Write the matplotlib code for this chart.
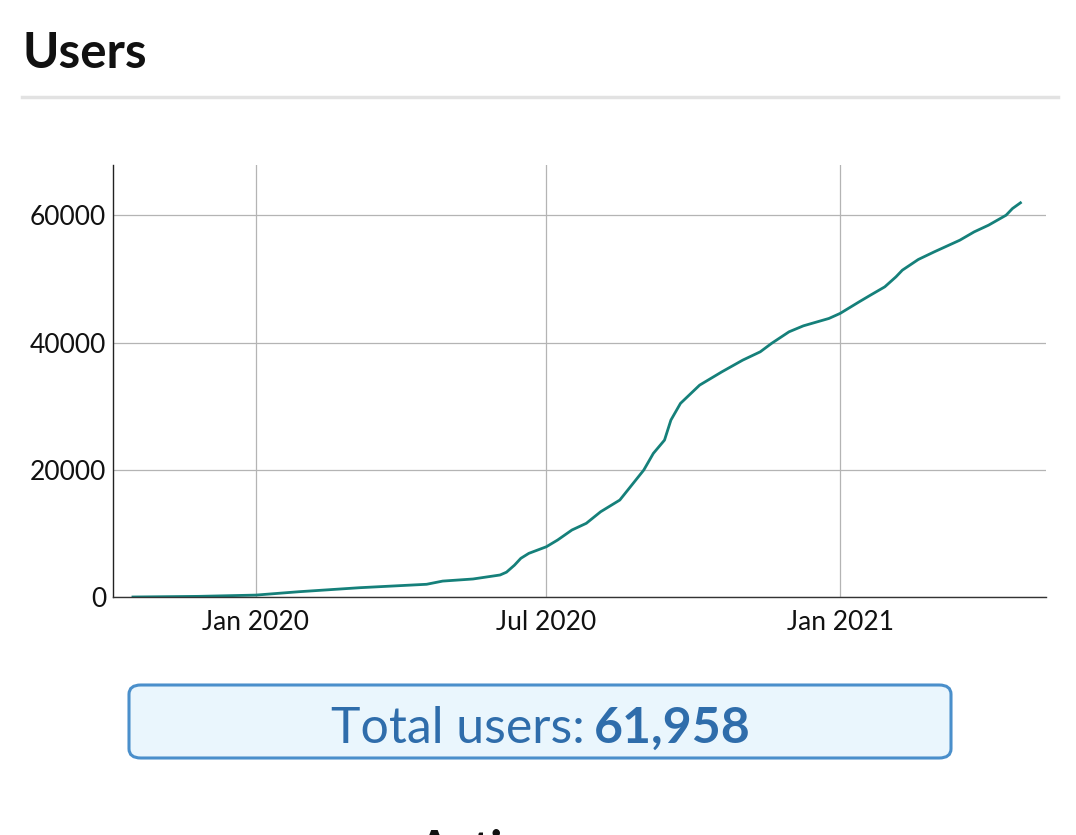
import pandas as pd
import matplotlib.pyplot as plt
import matplotlib.dates as mdates
from matplotlib.patches import FancyBboxPatch

plt.rcParams['font.family'] = ['Lato', 'DejaVu Sans']

# cumulative users
dates = ['2019-10-16', '2019-11-26', '2020-01-01', '2020-01-28', '2020-03-06',
         '2020-04-17', '2020-04-27', '2020-05-16', '2020-06-02', '2020-06-06',
         '2020-06-11', '2020-06-15', '2020-06-20', '2020-07-01', '2020-07-08',
         '2020-07-17', '2020-07-26', '2020-08-04', '2020-08-16', '2020-08-21',
         '2020-08-31', '2020-09-06', '2020-09-13', '2020-09-17', '2020-09-23',
         '2020-10-05', '2020-10-19', '2020-11-01', '2020-11-12', '2020-11-19',
         '2020-11-30', '2020-12-09', '2020-12-25', '2021-01-01', '2021-01-13',
         '2021-01-20', '2021-01-29', '2021-02-05', '2021-02-09', '2021-02-19',
         '2021-03-01', '2021-03-17', '2021-03-26', '2021-04-04', '2021-04-15',
         '2021-04-19', '2021-04-24']
users = [0, 100, 300, 830, 1460,
         2000, 2500, 2830, 3460, 3900,
         5000, 6080, 6860, 7900, 8950,
         10530, 11580, 13400, 15240, 16810,
         19950, 22570, 24660, 27800, 30430,
         33300, 35400, 37230, 38540, 39850,
         41680, 42620, 43780, 44570, 46400,
         47440, 48750, 50320, 51370, 53050,
         54250, 56080, 57390, 58440, 60010,
         61060, 61958]
y_ticks = [0, 20000, 40000, 60000]
x_ticks = ['2020-01-01', '2020-07-01', '2021-01-01']
total_users = 61958

df = pd.DataFrame({'date': pd.to_datetime(dates), 'users': users})

W, H = 1076, 835
fig = plt.figure(figsize=(W / 100, H / 100), dpi=100)

# page header
fig.text(22 / W, 1 - 68 / H, 'Users', fontsize=35.5, fontweight='bold',
         va='baseline', ha='left', color='#111111')
fig.add_artist(plt.Line2D([22 / W, 1058 / W], [1 - 97 / H, 1 - 97 / H],
                          color='#e2e2e2', lw=2.5))

ax = fig.add_axes([113 / W, 1 - 597 / H, (1046 - 113) / W, (597 - 165) / H])
ax.plot(df['date'], df['users'], color='#15807a', lw=2.0)

ax.set_xlim(pd.Timestamp('2019-10-03 12:00'), pd.Timestamp('2021-05-10'))
ax.set_ylim(0, 67900)
ax.set_yticks(y_ticks)
ax.set_xticks(pd.to_datetime(x_ticks))
ax.xaxis.set_major_formatter(mdates.DateFormatter('%b %Y'))
ax.tick_params(length=0, labelsize=19, labelcolor='#111111')
ax.tick_params(axis='y', pad=5)
ax.tick_params(axis='x', pad=9)
ax.grid(True, color='#b4b4b4', lw=0.9)
ax.set_axisbelow(True)
for side in ['top', 'right']:
    ax.spines[side].set_visible(False)
ax.spines['left'].set_color('#222222')
ax.spines['bottom'].set_color('#333333')
ax.spines['left'].set_linewidth(1.0)
ax.spines['bottom'].set_linewidth(1.0)

# total users box
box = FancyBboxPatch((129 / W, 1 - 758 / H), (951 - 129) / W, (758 - 685) / H,
                     boxstyle='round,pad=0,rounding_size=0.011',
                     transform=fig.transFigure, facecolor='#eaf6fd',
                     edgecolor='#4a8fcb', lw=2.2)
fig.add_artist(box)
t1 = fig.text(0, 1 - 742.7 / H, 'Total users:', fontsize=36, color='#2f6dab',
              ha='left', va='baseline')
t2 = fig.text(0, 1 - 742.7 / H, f'{total_users:,}', fontsize=36,
              fontweight='bold', color='#2f6dab', ha='left', va='baseline')
renderer = fig.canvas.get_renderer()
w1 = t1.get_window_extent(renderer).width
w2 = t2.get_window_extent(renderer).width
gap = 9
x0 = 540.5 - (w1 + gap + w2) / 2
t1.set_x(x0 / W)
t2.set_x((x0 + w1 + gap) / W)

# next section heading, cut off at the bottom edge
fig.text(417 / W, 1 - 865 / H, 'Active users', fontsize=34, fontweight='bold',
         va='baseline', ha='left', color='#111111')

fig.savefig('out.png', dpi=100)
